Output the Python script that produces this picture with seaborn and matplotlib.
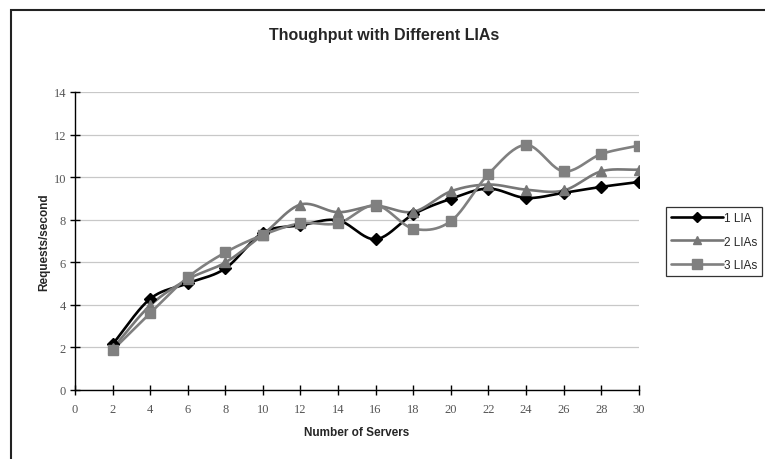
import numpy as np
import pandas as pd
import matplotlib
matplotlib.use("Agg")
import matplotlib.pyplot as plt
import seaborn as sns
from matplotlib.lines import Line2D
from matplotlib.patches import Rectangle

servers = [2, 4, 6, 8, 10, 12, 14, 16, 18, 20, 22, 24, 26, 28, 30]
lia1 = [2.15, 4.28, 5.01, 5.71, 7.39, 7.73, 7.97, 7.08, 8.25, 8.98, 9.46, 9.02, 9.26, 9.54, 9.77]
lia2 = [1.95, 3.97, 5.20, 5.99, 7.30, 8.71, 8.35, 8.65, 8.37, 9.33, 9.65, 9.41, 9.37, 10.27, 10.35]
lia3 = [1.87, 3.61, 5.29, 6.46, 7.28, 7.83, 7.83, 8.68, 7.58, 7.93, 10.14, 11.51, 10.27, 11.08, 11.48]
names = ["1 LIA", "2 LIAs", "3 LIAs"]
colors = ["#000000", "#777777", "#808080"]
markers = ["D", "^", "s"]
msizes = [6, 7, 7.5]


def smooth(x, y, n=24):
    # catmull-rom curve through the points, like the office "smoothed line"
    x = np.asarray(x, float)
    y = np.asarray(y, float)
    px = np.concatenate([[2 * x[0] - x[1]], x, [2 * x[-1] - x[-2]]])
    py = np.concatenate([[2 * y[0] - y[1]], y, [2 * y[-1] - y[-2]]])
    t = np.linspace(0, 1, n)[:, None]
    xs, ys = [], []
    for i in range(1, len(px) - 2):
        for arr, out in ((px, xs), (py, ys)):
            p0, p1, p2, p3 = arr[i - 1], arr[i], arr[i + 1], arr[i + 2]
            seg = 0.5 * (2 * p1 + (-p0 + p2) * t + (2 * p0 - 5 * p1 + 4 * p2 - p3) * t ** 2
                         + (-p0 + 3 * p1 - 3 * p2 + p3) * t ** 3)
            out.append(seg.ravel())
    return np.concatenate(xs), np.concatenate(ys)


sns.set_style("white")
plt.rcParams["font.family"] = ["Liberation Sans", "DejaVu Sans"]

fig = plt.figure(figsize=(7.65, 4.6), dpi=100)
ax = fig.add_axes([0.098, 0.150, 0.737, 0.648])

# outer chart frame (only left and top visible in the crop)
fig.patches.append(Rectangle((11 / 765, -0.05), 1.2, 1 - 11 / 460 + 0.05,
                             transform=fig.transFigure, fill=False,
                             edgecolor="#222222", linewidth=1.5))

handles = []
for name, vals, c, m, ms in zip(names, [lia1, lia2, lia3], colors, markers, msizes):
    sx, sy = smooth(servers, vals)
    sns.lineplot(x=sx, y=sy, ax=ax, color=c, linewidth=1.9, sort=False, estimator=None)
    ax.plot(servers, vals, linestyle="none", marker=m, markersize=ms, color=c,
            markeredgecolor=c, zorder=3)
    handles.append(Line2D([], [], color=c, linewidth=1.9, marker=m, markersize=ms - 1,
                          markeredgecolor=c, label=name))

ax.set_xlim(0, 30)
ax.set_ylim(0, 14)
ax.set_xticks(range(0, 31, 2))
ax.set_yticks(range(0, 15, 2))
ax.yaxis.grid(True, color="#c8c8c8", linewidth=0.9)
ax.set_axisbelow(True)
for s in ["top", "right"]:
    ax.spines[s].set_visible(False)
for s in ["left", "bottom"]:
    ax.spines[s].set_color("black")
    ax.spines[s].set_linewidth(1.0)
ax.tick_params(direction="inout", length=7, width=1, color="black",
               labelsize=9, labelcolor="#555555", left=True, bottom=True)
for lab in ax.get_xticklabels() + ax.get_yticklabels():
    lab.set_family("Liberation Serif")
ax.tick_params(axis="x", pad=6)
ax.tick_params(axis="y", pad=3)

ax.set_xlabel("Number of Servers", fontsize=8.5, fontweight="bold", labelpad=8)
ax.set_ylabel("Requests/second", fontsize=8.5, fontweight="bold", labelpad=2)
fig.text(0.502, 0.922, "Thoughput with Different LIAs", ha="center", va="center",
         fontsize=11.5, fontweight="bold")

leg = fig.legend(handles=handles, loc="upper left", bbox_to_anchor=(666 / 765, 1 - 208 / 460),
                 frameon=True, fancybox=False, fontsize=8.5, handlelength=4.4,
                 handletextpad=0.05, borderpad=0.45, labelspacing=0.95,
                 borderaxespad=0)
leg.get_frame().set_edgecolor("black")
leg.get_frame().set_linewidth(0.9)

fig.savefig("out.png", dpi=100)
